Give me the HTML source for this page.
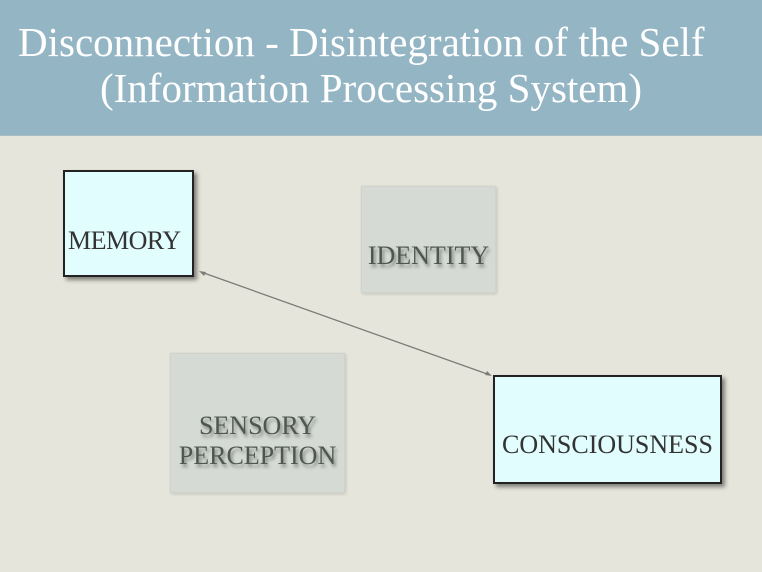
<!DOCTYPE html>
<html><head><style>
body{margin:0;width:762px;height:572px;background:#e5e5db;position:relative;overflow:hidden;font-family:"Liberation Serif",serif}
.hdr{position:absolute;left:0;top:0;width:762px;height:135px;background:#94b5c4;border-bottom:1px solid #a9bcc2}
.t{position:absolute;color:#fff;font-size:41px;white-space:nowrap}
.b{position:absolute;box-sizing:border-box;display:flex;align-items:center;justify-content:center;text-align:center;color:#333;font-size:26px;line-height:30px}
.c{background:#e1fdfd;border:2px solid #222;box-shadow:3px 3px 4px rgba(0,0,0,.45)}
.g{background:#d6dad5;border:1px solid #d0d3cd;box-shadow:1px 1px 3px rgba(0,0,0,.15);color:#4d5650;text-shadow:2px 3px 3px rgba(0,0,0,.4);font-size:26px;line-height:30px}
</style></head><body>
<div class="hdr"></div>
<div class="t" style="left:18px;top:18px">Disconnection - Disintegration of the Self</div>
<div class="t" style="left:100px;top:64px">(Information Processing System)</div>
<div class="b c" style="left:63px;top:170px;width:131px;height:107px;justify-content:flex-start;padding-left:3px;padding-top:34px;letter-spacing:-0.5px">MEMORY</div>
<div class="b g" style="left:361px;top:186px;width:135px;height:107px;padding-top:32px">IDENTITY</div>
<div class="b g" style="left:170px;top:353px;width:175px;height:140px;padding-top:35px">SENSORY<br>PERCEPTION</div>
<div class="b c" style="left:493px;top:375px;width:229px;height:109px;padding-top:30px">CONSCIOUSNESS</div>
<svg style="position:absolute;left:0;top:0" width="762" height="572">
<line x1="201" y1="272" x2="490" y2="375" stroke="#7a7d76" stroke-width="1.3"/>
<polygon points="199,271 206,272 204,276" fill="#7a7d76"/>
<polygon points="492,376 485,375 487,371" fill="#7a7d76"/>
</svg>
</body></html>
